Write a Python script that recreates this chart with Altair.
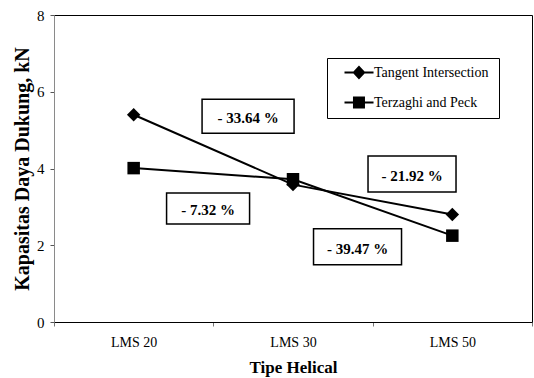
import altair as alt
import pandas as pd

# Bearing capacity of helical pile types, two prediction methods
categories = ["LMS 20", "LMS 30", "LMS 50"]
series_names = ["Tangent Intersection", "Terzaghi and Peck"]
tangent_kn = [5.40, 3.58, 2.80]
terzaghi_kn = [4.01, 3.72, 2.25]

# Percentage-change callouts
change_labels = ["- 33.64 %", "- 21.92 %", "- 7.32 %", "- 39.47 %"]
# callout anchors: x in category units (band centres at 0.5, 1.5, 2.5), y in kN
change_x = [1.218, 2.247, 0.967, 1.905]
change_y = [5.364, 3.858, 2.958, 1.959]
box_w = [92, 88, 83, 88]
box_h = [34, 36, 31, 36]

FONT = "Liberation Serif"

df = pd.DataFrame({
    "tipe": categories * 2,
    "kn": tangent_kn + terzaghi_kn,
    "metode": [series_names[0]] * len(categories) + [series_names[1]] * len(categories),
})

x_enc = alt.X(
    "tipe:N",
    sort=categories,
    bandPosition=0.5,
    scale=alt.Scale(type="band", domain=categories, paddingInner=0, paddingOuter=0),
    axis=alt.Axis(
        title="Tipe Helical", tickBand="extent", labelAngle=0,
        labelFont=FONT, labelFontSize=14, labelColor="black", labelPadding=9,
        tickSize=4, tickColor="#777777", domainColor="black", domainWidth=1,
        titleFont=FONT, titleFontSize=17, titleFontWeight="bold", titleColor="black",
        titleY=50, titleBaseline="alphabetic", grid=False,
    ),
)
y_enc = alt.Y(
    "kn:Q",
    scale=alt.Scale(domain=[0, 8], nice=False, zero=True),
    axis=alt.Axis(
        values=[0, 2, 4, 6, 8], title="Kapasitas Daya Dukung, kN", grid=False,
        labelFont=FONT, labelFontSize=15, labelColor="black", labelPadding=6,
        tickSize=4, tickColor="#555555", domainColor="#8a8a8a", domainWidth=1,
        titleFont=FONT, titleFontSize=20, titleFontWeight="bold", titleColor="black",
        titleX=-26, titleBaseline="alphabetic",
    ),
)

base = alt.Chart(df)

lines = base.mark_line(color="black", strokeWidth=2).encode(
    x=x_enc, y=y_enc, detail="metode:N"
)

point_shapes = ["diamond", "square"]
point_sizes = [180, 156]
points = [
    base.transform_filter(alt.datum.metode == name)
    .mark_point(shape=shp, size=sz, filled=True, color="black", opacity=1)
    .encode(x=x_enc, y=y_enc)
    for name, shp, sz in zip(series_names, point_shapes, point_sizes)
]

# legend glyphs: a short bar with the series marker on it (all filled outlines);
# the trailing move-to widens the legend frame to the right
legend_paths = [
    "M0.4,-0.14H4.27V0.14H0.4ZM2.33,-0.93L3.2,0L2.33,0.93L1.47,0ZM19.7,0",
    "M0.4,-0.14H4.27V0.14H0.4ZM1.53,-0.8H3.13V0.8H1.53ZM19.7,0",
]
legend_layer = base.transform_filter("false").mark_point(
    filled=True, color="black"
).encode(
    x=x_enc,
    y=y_enc,
    shape=alt.Shape(
        "metode:N",
        scale=alt.Scale(domain=series_names, range=legend_paths),
        legend=alt.Legend(
            title=None, orient="none", legendX=273, legendY=43,
            strokeColor="black", fillColor="white", padding=6,
            rowPadding=10, symbolSize=225, labelOffset=24,
            labelFont=FONT, labelFontSize=14, labelColor="black",
            symbolFillColor="black", symbolOpacity=1,
        ),
    ),
)

main = alt.layer(lines, *points, legend_layer)

ann_df = pd.DataFrame({"teks": change_labels, "ax": change_x, "kn": change_y})
ax_enc = alt.X("ax:Q", scale=alt.Scale(domain=[0, 3], nice=False, zero=False), axis=None)
ay_enc = alt.Y("kn:Q", scale=alt.Scale(domain=[0, 8], nice=False, zero=True), axis=None)

boxes = []
for i in range(len(change_labels)):
    r = box_h[i] / box_w[i]
    path = f"M-1,{-r:.4f}H1V{r:.4f}H-1Z"
    boxes.append(
        alt.Chart(ann_df.iloc[[i]]).mark_point(
            shape=path, size=box_w[i] ** 2, filled=True, fill="white",
            stroke="black", strokeWidth=1.5, opacity=1,
        ).encode(x=ax_enc, y=ay_enc)
    )

texts = alt.Chart(ann_df).mark_text(
    font=FONT, fontSize=15, fontWeight="bold", color="black",
    align="center", baseline="middle", dy=2,
).encode(x=ax_enc, y=ay_enc, text="teks:N")

annotations = alt.layer(*boxes, texts)

chart = (
    alt.layer(main, annotations)
    .resolve_scale(x="independent", y="independent")
    .properties(
        width=478, height=307,
        padding={"left": 54, "top": 15, "right": 2, "bottom": 56},
        autosize=alt.AutoSizeParams(type="none"),
        background="white",
    )
    .configure_view(stroke="black", strokeWidth=1)
)

chart.save("out.html", embed_options={"renderer": "svg", "actions": False})
